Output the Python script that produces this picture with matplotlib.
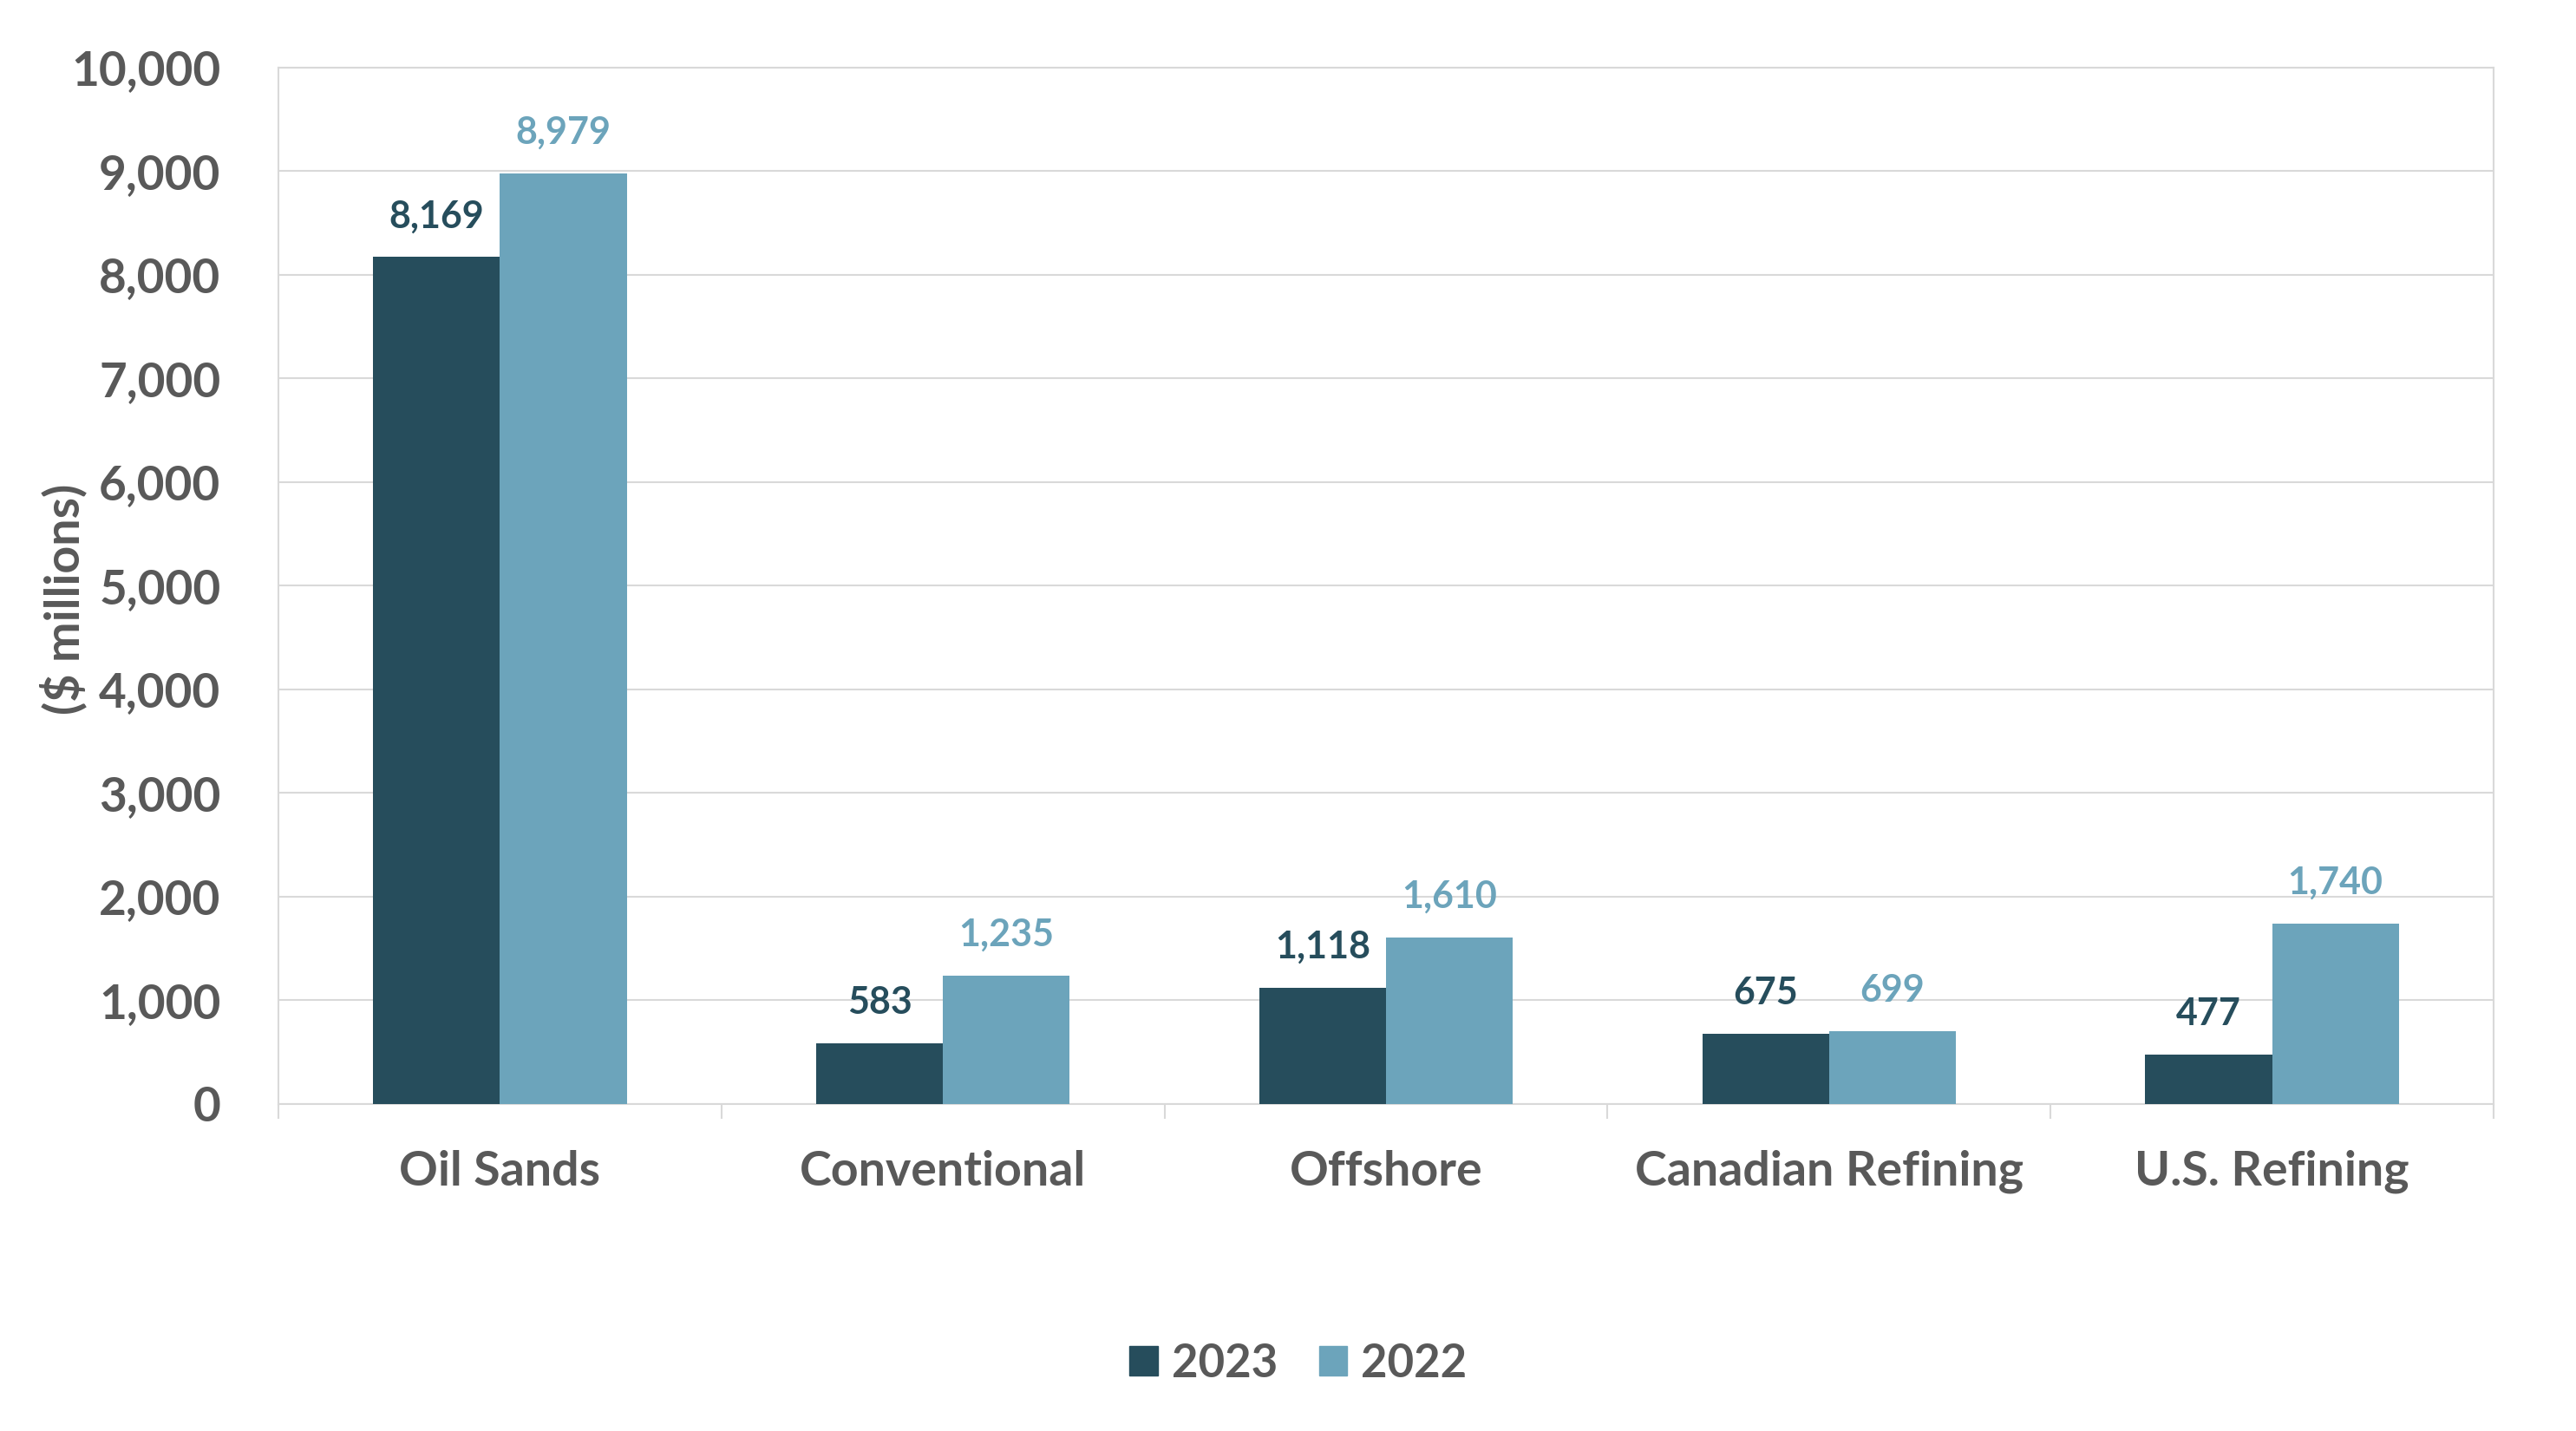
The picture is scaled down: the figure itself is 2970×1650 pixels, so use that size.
import matplotlib
matplotlib.use("Agg")
import matplotlib.pyplot as plt
import numpy as np
from matplotlib.ticker import FuncFormatter, FixedLocator
from matplotlib.patches import Patch

categories = ["Oil Sands", "Conventional", "Offshore", "Canadian Refining", "U.S. Refining"]
values_2023 = [8169, 583, 1118, 675, 477]
values_2022 = [8979, 1235, 1610, 699, 1740]
series_names = ["2023", "2022"]
yticks = [0, 1000, 2000, 3000, 4000, 5000, 6000, 7000, 8000, 9000, 10000]

c_dark = "#264d5c"
c_light = "#6ca4bb"
c_text = "#595959"
c_grid = "#d9d9d9"

plt.rcParams['font.family'] = ['Lato', 'DejaVu Sans']
plt.rcParams['font.weight'] = 'bold'

fig = plt.figure(figsize=(29.7, 16.5), dpi=100)
ax = fig.add_axes([0.1081, 0.2285, 0.968 - 0.1081, 0.953 - 0.2285])

x = np.arange(len(categories))
w = 0.286
b1 = ax.bar(x - w / 2, values_2023, w, color=c_dark, zorder=3)
b2 = ax.bar(x + w / 2, values_2022, w, color=c_light, zorder=3)

for bars, vals, col in ((b1, values_2023, c_dark), (b2, values_2022, c_light)):
    for r, v in zip(bars, vals):
        ax.annotate(f"{v:,}", (r.get_x() + r.get_width() / 2, v),
                    xytext=(0, 34), textcoords="offset points",
                    ha="center", va="center", fontsize=31, fontweight="bold", color=col)

ax.set_xlim(-0.5, len(categories) - 0.5)
ax.set_ylim(0, 10000)
ax.yaxis.set_major_locator(FixedLocator(yticks))
ax.yaxis.set_major_formatter(FuncFormatter(lambda v, p: f"{int(v):,}"))
ax.grid(axis="y", color=c_grid, linewidth=1.5, zorder=0)
ax.set_axisbelow(True)

for s in ax.spines.values():
    s.set_color(c_grid)
    s.set_linewidth(1.5)

ax.set_xticks(x)
ax.set_xticklabels(categories)
ax.set_xticks(np.arange(-0.5, len(categories)), minor=True)
ax.tick_params(axis="x", which="major", length=0, pad=38, labelsize=40, labelcolor=c_text)
ax.tick_params(axis="x", which="minor", length=12, width=1.5, color=c_grid, direction="out")
ax.tick_params(axis="y", which="major", length=0, pad=48, labelsize=39.5, labelcolor=c_text)
for lab in ax.get_xticklabels() + ax.get_yticklabels():
    lab.set_fontweight("bold")

fig.text(0.0246, 0.581, "($ millions)", rotation=90, ha="center", va="center",
         fontsize=40, fontweight="bold", color=c_text)

handles = [Patch(color=c_dark, label=series_names[0]), Patch(color=c_light, label=series_names[1])]
leg = fig.legend(handles=handles, loc="center", bbox_to_anchor=(0.504, 0.047), ncol=2,
                 frameon=False, fontsize=38, handlelength=0.62, handleheight=0.62,
                 handletextpad=0.3, columnspacing=0.9)
for t in leg.get_texts():
    t.set_color(c_text)
    t.set_fontweight("bold")

fig.savefig("out.png", dpi=100, facecolor="white")
